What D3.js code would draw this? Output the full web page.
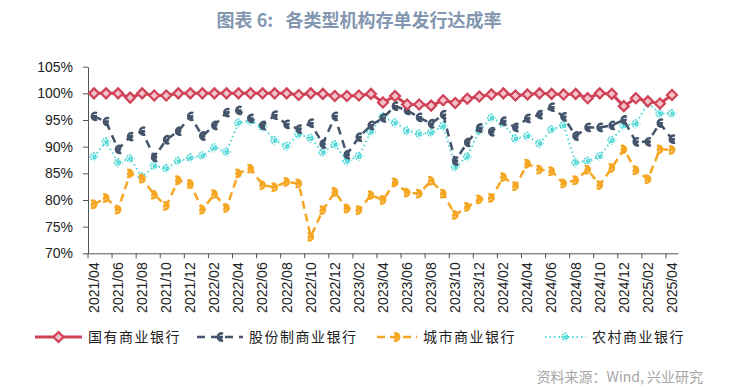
<!DOCTYPE html>
<html><head><meta charset="utf-8">
<script src="https://cdn.jsdelivr.net/npm/d3@7"></script>
<style>
html,body{margin:0;padding:0;background:#fff;}
svg{display:block;}
</style></head>
<body>
<svg id="chart" width="731" height="391"></svg>
<script>
const months = ["2021/04","2021/05","2021/06","2021/07","2021/08","2021/09","2021/10","2021/11","2021/12",
"2022/01","2022/02","2022/03","2022/04","2022/05","2022/06","2022/07","2022/08","2022/09","2022/10","2022/11","2022/12",
"2023/01","2023/02","2023/03","2023/04","2023/05","2023/06","2023/07","2023/08","2023/09","2023/10","2023/11","2023/12",
"2024/01","2024/02","2024/03","2024/04","2024/05","2024/06","2024/07","2024/08","2024/09","2024/10","2024/11","2024/12",
"2025/01","2025/02","2025/03","2025/04"];
const tickLabels = ["2021/04","2021/06","2021/08","2021/10","2021/12","2022/02","2022/04","2022/06","2022/08","2022/10","2022/12",
"2023/02","2023/04","2023/06","2023/08","2023/10","2023/12","2024/02","2024/04","2024/06","2024/08","2024/10","2024/12","2025/02","2025/04"];
const yTicks = [70,75,80,85,90,95,100,105];
const seriesNames = ["国有商业银行","股份制商业银行","城市商业银行","农村商业银行"];
const stateOwned = [100,100,100,99.2,100,99.6,99.6,100,100,100,100,100,100,100,100,100,100,99.7,100,99.9,99.5,
99.5,99.6,99.9,98.3,99.5,97.9,97.9,97.7,98.7,98.2,99.0,99.4,99.8,100,99.6,99.8,100,99.9,99.8,99.9,99.1,100,99.9,97.6,
99.1,98.5,98.1,99.7];
const jointStock = [95.7,94.7,89.5,91.9,92.9,88.0,91.3,92.9,95.7,92.0,94.0,96.4,96.8,95.3,94.0,95.9,94.2,93.3,94.4,90.5,95.7,
88.5,91.8,94.0,95.4,97.6,96.8,95.5,94.3,96.0,87.3,90.8,93.5,92.8,94.8,93.6,95.3,96.0,97.4,95.6,92.0,93.6,93.6,94.0,95.0,
90.9,90.9,94.4,91.4];
const cityBanks = [79.2,80.4,78.2,85.0,84.0,81.0,78.9,83.7,83.0,78.2,81.1,78.5,85.0,85.9,82.8,82.4,83.4,83.1,73.1,78.1,81.5,
78.4,78.1,80.9,80.0,83.3,81.4,81.2,83.6,81.2,77.2,78.7,80.1,80.4,84.3,82.6,86.8,85.7,85.4,83.1,83.7,85.7,82.8,86.0,89.5,
85.6,83.9,89.5,89.4];
const ruralBanks = [88.1,90.9,87.0,87.8,84.3,86.4,85.9,87.3,87.9,88.3,89.8,89.0,94.5,94.8,93.7,91.2,90.1,92.3,91.6,88.9,90.4,
87.3,88.2,92.8,95.6,94.5,93.0,92.4,92.6,93.9,86.2,88.1,93.0,95.4,94.3,91.5,92.0,90.6,93.2,94.0,87.0,87.3,88.2,91.2,94.0,
94.3,98.2,96.2,96.2];

const svg = d3.select("#chart");
const plotL = 88, plotR = 678, plotT = 66.7, plotB = 253.3;

const x = d3.scaleBand().domain(months).range([plotL, plotR]).padding(0);
const y = d3.scaleLinear().domain([70,105]).range([plotB, plotT]);
const bw = x.bandwidth();
const cx = d => x(d) + bw/2;

// title
svg.append("text").attr("x",359).attr("y",27).attr("text-anchor","middle")
  .attr("xml:space","preserve").style("white-space","pre")
  .style("font-family","'Noto Sans CJK SC'").style("font-size","18px").style("font-weight","bold")
  .style("fill","#8497b0").text("图表 6:   各类型机构存单发行达成率");

// y axis
const yAxis = svg.append("g").attr("transform",`translate(${plotL},0)`)
  .call(d3.axisLeft(y).tickValues(yTicks).tickFormat(d=>d+"%").tickSize(5).tickPadding(10).tickSizeOuter(0));
yAxis.select(".domain").attr("stroke","#555");
yAxis.selectAll(".tick line").attr("stroke","#555");
yAxis.selectAll("text").style("font-family","'Liberation Sans', Arial").style("font-size","14px").style("fill","#222");

// x axis
const xAxis = svg.append("g").attr("transform",`translate(0,${plotB})`)
  .call(d3.axisBottom(x).tickValues(tickLabels).tickSize(0).tickSizeOuter(0).tickPadding(0));
xAxis.select(".domain").attr("stroke","#555");
xAxis.selectAll(".tick text")
  .attr("transform","rotate(-90)").attr("text-anchor","end").attr("x",-9).attr("y",0).attr("dy","0.35em")
  .style("font-family","'Liberation Sans', Arial").style("font-size","14px").style("fill","#222");
// tick marks at band boundaries every two categories
svg.append("g").selectAll("line").data(tickLabels).join("line")
  .attr("x1", d=>x(d)).attr("x2", d=>x(d)).attr("y1", plotB).attr("y2", plotB+5)
  .attr("stroke","#555");

const colors = ["#cf4257","#44546a","#f5a623","#4fd8d6"];
const data = [stateOwned, jointStock, cityBanks, ruralBanks];
const line = d3.line().x((d,i)=>cx(months[i])).y(d=>y(d));

const lineStyles = [
  {w:3, dash:null},
  {w:2.5, dash:"8,6"},
  {w:2.5, dash:"8,5"},
  {w:2, dash:"1.5,3"}
];

function marker(g, k){
  const c = colors[k];
  if(k===0){
    g.append("path").attr("d","M0,-5 L5,0 L0,5 L-5,0 Z")
      .attr("fill","#f3c2c9").attr("stroke",c).attr("stroke-width",2.2);
  } else if(k===1){
    g.append("path").attr("d","M3,-3.2 A3.6,3.6 0 1,0 3,3.2 M-3,0 H3 M-1,0 L2,3.5")
      .attr("fill","none").attr("stroke",c).attr("stroke-width",2.5);
  } else if(k===2){
    g.append("path").attr("d","M-3,-3.2 A3.6,3.6 0 1,1 -3,3.2 M3,0 H-3 M0,-3.5 L-2.5,2")
      .attr("fill","none").attr("stroke",c).attr("stroke-width",2.5);
  } else {
    g.append("path").attr("d","M-4.5,0 H4.5 M0,-4.5 V4.5 M-3,-3 L3,3 M-3,3 L3,-3")
      .attr("fill","none").attr("stroke",c).attr("stroke-width",2).attr("stroke-dasharray","1.6,1.2");
  }
}

// draw series (back to front)
[3,2,1,0].forEach(k=>{
  const st = lineStyles[k];
  const g = svg.append("g");
  g.append("path").datum(data[k]).attr("d",line).attr("fill","none")
    .attr("stroke",colors[k]).attr("stroke-width",st.w)
    .attr("stroke-dasharray",st.dash).attr("stroke-linejoin","round");
  g.selectAll("g.m").data(data[k]).join("g").attr("class","m")
    .attr("transform",(d,i)=>`translate(${cx(months[i])},${y(d)})`)
    .each(function(){ marker(d3.select(this), k); });
});

// legend
const legendX = [35, 197, 377, 545];
const lineLen = [47, 46, 40, 41];
seriesNames.forEach((name,k)=>{
  const g = svg.append("g").attr("transform",`translate(${legendX[k]},337)`);
  const st = lineStyles[k];
  g.append("line").attr("x1",0).attr("x2",lineLen[k]).attr("y1",0).attr("y2",0)
    .attr("stroke",colors[k]).attr("stroke-width",st.w).attr("stroke-dasharray",st.dash);
  const mg = g.append("g").attr("transform",`translate(${lineLen[k]/2},0)`);
  marker(mg,k);
  g.append("text").attr("x",lineLen[k]+6).attr("y",5).text(name)
    .style("font-family","'Noto Sans CJK SC'").style("font-size","14px")
    .style("letter-spacing","1.5px").style("fill","#222");
});

// source
svg.append("text").attr("x",703).attr("y",382).attr("text-anchor","end")
  .style("font-family","'Noto Sans CJK SC'").style("font-size","14px").style("fill","#a6a6a6")
  .text("资料来源：Wind, 兴业研究");
</script>
</body></html>
